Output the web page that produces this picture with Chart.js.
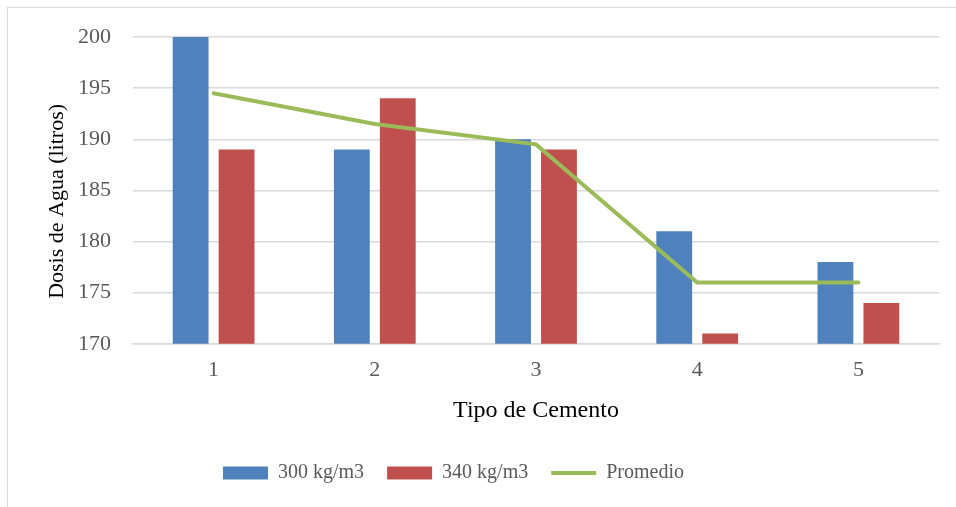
<!DOCTYPE html>
<html lang="es">
<head>
  <title>Dosis de Agua por Tipo de Cemento</title>
  <script src="https://cdn.jsdelivr.net/npm/chart.js@4.4.0/dist/chart.umd.min.js"></script>
  <style>
    html, body { margin: 0; padding: 0; overflow: hidden; background: #fff; }
    /* marco gris del grafico (se sale por derecha y abajo) */
    .marco {
      position: absolute; left: 7px; top: 7px;
      width: 1000px; height: 600px;
      border: 1px solid #d9d9d9;
    }
    .caja { position: absolute; left: 0; top: 0; width: 956px; height: 507px; }
  </style>
</head>
<body>
  <div class="marco"></div>
  <div class="caja"><canvas id="grafico"></canvas></div>

  <script>
    // datos
    const tipos = ['1', '2', '3', '4', '5'];
    const dosis300 = [200, 189, 190, 181, 178];
    const dosis340 = [189, 194, 189, 171, 174];
    const promedio = [194.5, 191.5, 189.5, 176, 176];

    const gris = '#595959';
    const fuente = 'Liberation Serif, "Times New Roman", serif';

    // la leyenda del original esta algo corrida a la izquierda
    const correrLeyenda = {
      id: 'correrLeyenda',
      afterLayout(chart) { chart.legend.right -= 72; }
    };

    new Chart(document.getElementById('grafico'), {
      type: 'bar',
      data: {
        labels: tipos,
        datasets: [
          {
            type: 'line',
            label: 'Promedio',
            data: promedio,
            borderColor: '#9BBB59',
            backgroundColor: '#9BBB59',
            borderWidth: 4,
            borderCapStyle: 'round',
            pointRadius: 0,
            pointStyle: 'line',
            tension: 0,
            order: 0
          },
          {
            label: '300 kg/m3',
            data: dosis300,
            backgroundColor: '#4F81BD',
            pointStyle: 'rect',
            order: 1
          },
          {
            label: '340 kg/m3',
            data: dosis340,
            backgroundColor: '#C0504D',
            pointStyle: 'rect',
            order: 2
          }
        ]
      },
      plugins: [correrLeyenda],
      options: {
        responsive: true,
        maintainAspectRatio: false,
        animation: false,
        layout: { padding: { left: 40, right: 17, top: 37, bottom: 14 } },
        datasets: {
          bar: { categoryPercentage: 0.57, barPercentage: 0.78 }
        },
        plugins: {
          tooltip: { enabled: false },
          legend: {
            position: 'bottom',
            labels: {
              usePointStyle: true,
              pointStyleWidth: 45,
              boxHeight: 13,
              padding: 23,
              color: gris,
              font: { family: fuente, size: 20 },
              // orden de la leyenda: barras primero, luego la linea
              sort: (a, b) => [1, 2, 0].indexOf(a.datasetIndex) - [1, 2, 0].indexOf(b.datasetIndex)
            }
          }
        },
        scales: {
          x: {
            grid: { display: false, drawTicks: false },
            border: { display: true, color: '#d9d9d9', width: 1.5 },
            ticks: { color: gris, padding: 13, font: { family: fuente, size: 22 } },
            title: {
              display: true,
              text: 'Tipo de Cemento',
              color: '#000',
              padding: { top: 0, bottom: 15 },
              font: { family: fuente, size: 24 }
            }
          },
          y: {
            min: 170,
            max: 200,
            ticks: { stepSize: 5, color: gris, padding: 22, font: { family: fuente, size: 22 } },
            grid: { color: '#d9d9d9', lineWidth: 1.5, drawTicks: false },
            border: { display: false },
            title: {
              display: true,
              // espacios al final: el titulo queda algo mas abajo, como en el original
              text: 'Dosis de Agua (litros)    ',
              color: '#000',
              padding: { top: 4, bottom: 7 },
              font: { family: fuente, size: 22 }
            },
            // ancho fijo del eje para que el area empiece en x=133
            afterFit: (escala) => { escala.width = 93; }
          }
        }
      }
    });
  </script>
</body>
</html>
